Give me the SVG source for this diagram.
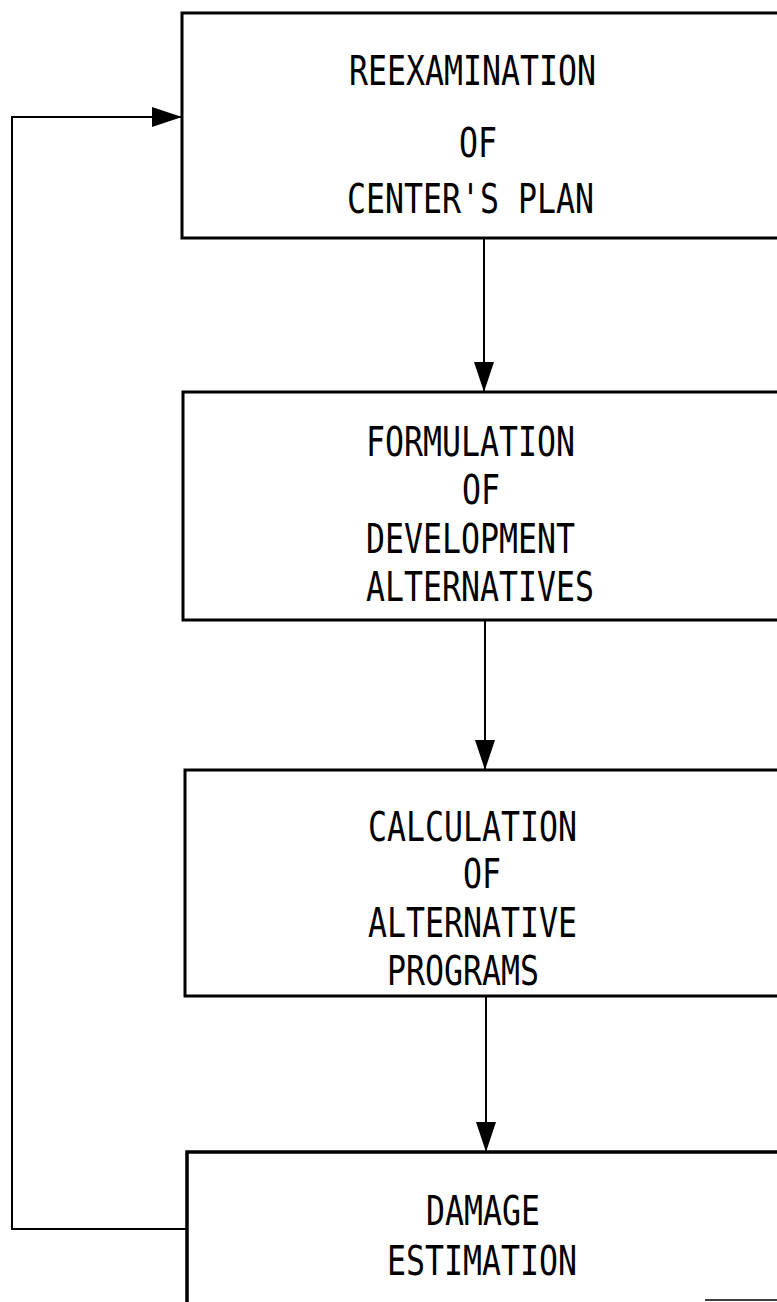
<svg xmlns="http://www.w3.org/2000/svg" width="777" height="1302" viewBox="0 0 777 1302">
<style>
.box{fill:none;stroke:#000;stroke-width:3}
.conn{fill:none;stroke:#000;stroke-width:2}
.t{font-family:"DejaVu Sans Mono","Liberation Mono",monospace;font-size:40px;fill:#000;lengthAdjust:spacingAndGlyphs}
</style>
<defs>
<marker id="ah" viewBox="0 0 30 20" refX="30" refY="10" markerWidth="30" markerHeight="20" markerUnits="userSpaceOnUse" orient="auto">
<path d="M0,0 L30,10 L0,20 Z" fill="#000"/>
</marker>
</defs>
<rect width="777" height="1302" fill="#fff"/>
<g id="node1">
<rect class="box" x="182" y="13" width="640" height="225"/>
<text class="t" x="349" y="85" textLength="247" lengthAdjust="spacingAndGlyphs">REEXAMINATION</text>
<text class="t" x="459" y="157" textLength="38" lengthAdjust="spacingAndGlyphs">OF</text>
<text class="t" x="347" y="213" textLength="247" lengthAdjust="spacingAndGlyphs">CENTER'S PLAN</text>
</g>
<g id="node2">
<rect class="box" x="183" y="392" width="640" height="228"/>
<text class="t" x="366" y="456" textLength="209" lengthAdjust="spacingAndGlyphs">FORMULATION</text>
<text class="t" x="462" y="504" textLength="38" lengthAdjust="spacingAndGlyphs">OF</text>
<text class="t" x="366" y="553" textLength="209" lengthAdjust="spacingAndGlyphs">DEVELOPMENT</text>
<text class="t" x="366" y="601" textLength="228" lengthAdjust="spacingAndGlyphs">ALTERNATIVES</text>
</g>
<g id="node3">
<rect class="box" x="185" y="770" width="640" height="226"/>
<text class="t" x="368" y="841" textLength="209" lengthAdjust="spacingAndGlyphs">CALCULATION</text>
<text class="t" x="463" y="888" textLength="38" lengthAdjust="spacingAndGlyphs">OF</text>
<text class="t" x="368" y="937" textLength="209" lengthAdjust="spacingAndGlyphs">ALTERNATIVE</text>
<text class="t" x="387" y="985" textLength="152" lengthAdjust="spacingAndGlyphs">PROGRAMS</text>
</g>
<g id="node4">
<path class="box" d="M800,1152 H187 V1310" style="stroke-width:3.5"/>
<text class="t" x="426" y="1225" textLength="114" lengthAdjust="spacingAndGlyphs">DAMAGE</text>
<text class="t" x="387" y="1275" textLength="190" lengthAdjust="spacingAndGlyphs">ESTIMATION</text>
</g>
<g id="connectors">
<line class="conn" x1="484" y1="239" x2="484" y2="392" marker-end="url(#ah)"/>
<line class="conn" x1="485" y1="621" x2="485" y2="770" marker-end="url(#ah)"/>
<line class="conn" x1="486" y1="997" x2="486" y2="1152" marker-end="url(#ah)"/>
<polyline class="conn" points="187,1229 12,1229 12,117 182,117" marker-end="url(#ah)"/>
<line class="conn" x1="705" y1="1300" x2="777" y2="1300" style="stroke-width:1.5"/>
</g>
</svg>
